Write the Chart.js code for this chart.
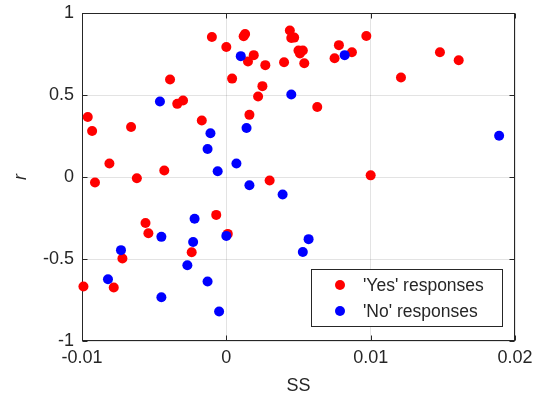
<!DOCTYPE html>
<html>
<head>
<meta charset="utf-8">
<script src="https://cdn.jsdelivr.net/npm/chart.js@4/dist/chart.umd.min.js"></script>
<style>
  html, body { margin: 0; padding: 0; background: #fff; }
  #wrap { width: 537px; height: 404px; }
</style>
</head>
<body>
<div id="wrap"><canvas id="c" width="537" height="404"></canvas></div>
<script>
// ---- data ----
const yesSS = [-0.0096,-0.0093,-0.0066,-0.0081,-0.0062,-0.0043,-0.0039,-0.0034,-0.0030,-0.0017,
  -0.0010,0.0000,0.0004,0.0012,0.0013,0.0015,0.0019,0.0016,0.0022,0.0025,
  0.0027,0.0040,0.0044,0.0045,0.0047,0.0050,0.0053,0.0051,0.0054,0.0063,
  0.0075,0.0078,0.0087,0.0097,0.0121,0.0148,0.0161,0.0100,-0.0091,0.0030,
  -0.0007,-0.0056,-0.0054,0.0001,-0.0024,-0.0072,-0.0099,-0.0078];
const yesR = [0.366,0.281,0.305,0.082,-0.008,0.040,0.594,0.446,0.466,0.344,
  0.854,0.793,0.600,0.858,0.872,0.704,0.743,0.379,0.491,0.554,
  0.682,0.700,0.893,0.848,0.850,0.771,0.771,0.753,0.694,0.427,
  0.724,0.804,0.761,0.860,0.607,0.761,0.712,0.010,-0.034,-0.021,
  -0.231,-0.280,-0.343,-0.347,-0.459,-0.497,-0.668,-0.674];
const noSS = [0.0082,0.0045,0.0189,0.0010,-0.0046,-0.0011,-0.0013,-0.0006,0.0014,0.0007,
  0.0016,0.0039,-0.0022,-0.0045,-0.0023,0.0000,-0.0073,-0.0027,-0.0082,-0.0013,
  -0.0045,-0.0005,0.0057,0.0053];
const noR = [0.743,0.503,0.251,0.737,0.460,0.267,0.171,0.035,0.299,0.082,
  -0.050,-0.107,-0.255,-0.365,-0.396,-0.359,-0.446,-0.538,-0.623,-0.637,
  -0.733,-0.820,-0.379,-0.457];
const seriesLabels = ["'Yes' responses", "'No' responses"];
const xTickValues = [-0.01, 0, 0.01, 0.02];
const xTickLabels = ['-0.01', '0', '0.01', '0.02'];
const yTickValues = [-1, -0.5, 0, 0.5, 1];
const yTickLabels = ['-1', '-0.5', '0', '0.5', '1'];
const xTitle = 'SS';
const yTitle = 'r';

const toPts = (xs, ys) => xs.map((x, i) => ({ x: x, y: ys[i] }));
const FONT = "'Liberation Sans', Arial, sans-serif";
const INK = '#262626';

// box + inward ticks (drawn under the markers)
const boxPlugin = {
  id: 'box',
  beforeDatasetsDraw(chart) {
    const { ctx, chartArea: a, scales } = chart;
    ctx.save();
    ctx.strokeStyle = INK;
    ctx.lineWidth = 1;
    const L = Math.round(a.left) + 0.5, R = Math.round(a.right) - 0.5;
    const T = Math.round(a.top) + 0.5, B = Math.round(a.bottom) - 0.5;
    ctx.strokeRect(L, T, R - L, B - T);
    ctx.beginPath();
    const tl = 5;
    xTickValues.forEach(v => {
      const p = Math.round(scales.x.getPixelForValue(v)) + 0.5;
      ctx.moveTo(p, B); ctx.lineTo(p, B - tl);
      ctx.moveTo(p, T); ctx.lineTo(p, T + tl);
    });
    yTickValues.forEach(v => {
      const p = Math.round(scales.y.getPixelForValue(v)) + 0.5;
      ctx.moveTo(L, p); ctx.lineTo(L + tl, p);
      ctx.moveTo(R, p); ctx.lineTo(R - tl, p);
    });
    ctx.stroke();
    ctx.restore();
  }
};

// MATLAB-style legend box inside the lower-right corner
const legendPlugin = {
  id: 'boxLegend',
  afterDraw(chart) {
    const { ctx, chartArea: a } = chart;
    const w = 191, h = 57;
    const x1 = a.right - 13 - w, y1 = a.bottom - 15 - h;
    ctx.save();
    ctx.fillStyle = '#fff';
    ctx.fillRect(x1, y1, w, h);
    ctx.strokeStyle = INK;
    ctx.lineWidth = 1;
    ctx.strokeRect(Math.round(x1) + 0.5, Math.round(y1) + 0.5, w, h);
    ctx.font = '17.5px ' + FONT;
    ctx.textBaseline = 'middle';
    ctx.textAlign = 'left';
    const ds = chart.data.datasets;
    [0, 1].forEach((k, row) => {
      const d = ds[k];
      const cy = y1 + 16 + row * 26;
      ctx.fillStyle = d.backgroundColor;
      ctx.beginPath();
      ctx.arc(x1 + 29, cy, 5, 0, Math.PI * 2);
      ctx.fill();
      ctx.fillStyle = INK;
      ctx.fillText(d.label, x1 + 52, cy + 1);
    });
    ctx.restore();
  }
};

new Chart(document.getElementById('c'), {
  type: 'scatter',
  data: {
    datasets: [
      { label: seriesLabels[0], data: toPts(yesSS, yesR), backgroundColor: '#ff0000',
        borderWidth: 0, pointRadius: 5, pointHoverRadius: 5, order: 2, clip: false },
      { label: seriesLabels[1], data: toPts(noSS, noR), backgroundColor: '#0000ff',
        borderWidth: 0, pointRadius: 5, pointHoverRadius: 5, order: 1, clip: false }
    ]
  },
  options: {
    responsive: false,
    animation: false,
    events: [],
    layout: { padding: { left: 0, right: 22, top: 13, bottom: 0 } },
    plugins: { legend: { display: false }, tooltip: { enabled: false } },
    scales: {
      x: {
        type: 'linear', min: -0.01, max: 0.02,
        afterBuildTicks: s => { s.ticks = xTickValues.map(v => ({ value: v })); },
        afterFit: s => { s.height = 63; s.paddingLeft = 0; s.paddingRight = 0; },
        border: { display: false },
        grid: { color: 'rgba(38,38,38,0.13)', drawTicks: false },
        ticks: { color: INK, font: { family: FONT, size: 18 }, padding: 6, maxRotation: 0,
          callback: (v, i) => xTickLabels[i] },
        title: { display: true, text: xTitle, color: INK, font: { family: FONT, size: 18 },
          padding: { top: 0, bottom: 7 } }
      },
      y: {
        type: 'linear', min: -1, max: 1,
        afterBuildTicks: s => { s.ticks = yTickValues.map(v => ({ value: v })); },
        afterFit: s => { s.width = 82; s.paddingTop = 0; s.paddingBottom = 0; },
        border: { display: false },
        grid: { color: 'rgba(38,38,38,0.13)', drawTicks: false },
        ticks: { color: INK, font: { family: FONT, size: 18 }, padding: 8,
          callback: (v, i) => yTickLabels[i] },
        title: { display: true, text: yTitle, color: INK,
          font: { family: FONT, size: 18, style: 'italic' }, padding: { top: 10, bottom: 0 } }
      }
    }
  },
  plugins: [boxPlugin, legendPlugin]
});
</script>
</body>
</html>
